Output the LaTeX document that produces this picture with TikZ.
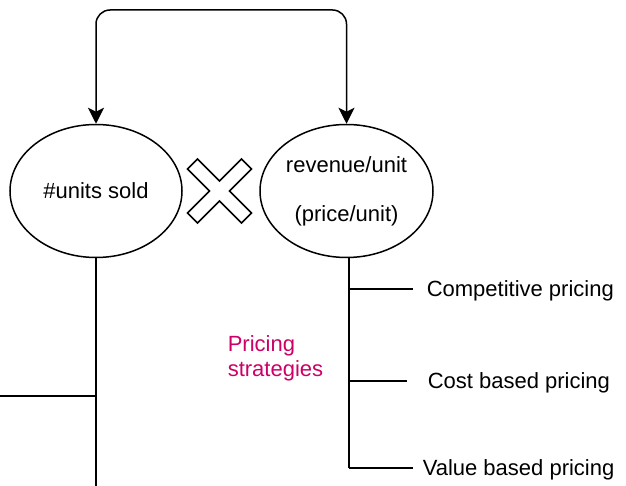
\documentclass[tikz,border=0pt]{standalone}
\usepackage{fontspec}
\setmainfont{Liberation Sans}
\usetikzlibrary{arrows.meta,shapes.geometric}
\definecolor{strategy}{RGB}{204,0,102}
\tikzset{
  oval/.style={draw,ellipse,line width=1.5pt,inner sep=0pt,align=center},
  label text/.style={inner sep=0pt},
  tips/.style={{Stealth[length=16pt,width=16pt,inset=4pt]}-{Stealth[length=16pt,width=16pt,inset=4pt]}}
}
\begin{document}
\begin{tikzpicture}[x=1pt,y=-1pt,line width=1.5pt,font=\fontsize{22}{25}\selectfont]
  \useasboundingbox (0,0) rectangle (626,486);
  % the two factors
  \node[oval,minimum width=172pt,minimum height=133pt] (units) at (96,191) {\#units sold};
  \node[oval,minimum width=173pt,minimum height=133pt] (revenue) at (346.5,191)
        {revenue/unit\\[24pt](price/unit)};
  % multiplication sign between them
  \coordinate (times) at (219.5,191);
  \draw[shift={(times)}] (-32,-22) -- (-22,-32) -- (0,-10) -- (22,-32) -- (32,-22) -- (10,0)
        -- (32,22) -- (22,32) -- (0,10) -- (-22,32) -- (-32,22) -- (-10,0) -- cycle;
  % connector over the top, arrow on both ends
  \coordinate (top) at (0,10);
  \draw[tips,rounded corners=14pt] (units.north) -- (units.north |- top)
        -- (revenue.north |- top) -- (revenue.north);
  % lines under #units sold
  \coordinate (leftend) at (0,396);
  \coordinate (bottom) at (0,486);
  \draw (units.south) |- (leftend);
  \draw[line width=1.2pt] (units.south) -- (units.south |- bottom);
  % pricing strategies
  \node[label text,text=strategy,align=left,anchor=north west] (strategies) at (227,335)
        {Pricing\\strategies};
  \coordinate (spine) at ([xshift=2.5pt]revenue.south);
  \foreach \yy/\gap/\xt/\nm/\txt in {296/13/426/comp/Competitive pricing,
                                      388/20/427/cost/Cost based pricing,
                                      475/9/422/value/Value based pricing}{
    \node[label text,anchor=base west] (\nm) at (\xt,\yy) {\txt};
    \draw ([yshift=7pt]spine |- \nm.base west) -- ([xshift=-\gap pt,yshift=7pt]\nm.base west);
  }
  \draw (spine) -- ([yshift=7pt]spine |- value.base west);
\end{tikzpicture}
\end{document}
